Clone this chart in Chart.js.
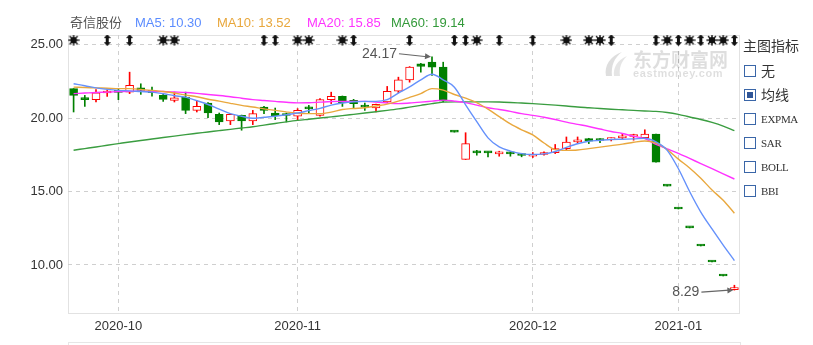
<!DOCTYPE html>
<html>
<head>
<meta charset="utf-8">
<script src="https://cdn.jsdelivr.net/npm/chart.js@4.4.0/dist/chart.umd.min.js"></script>
<style>
  body { margin: 0; background: #fff; }
  #wrap { position: relative; width: 813px; height: 345px; overflow: hidden; font-family: "Liberation Sans", Arial, sans-serif; }
  #chart { position: absolute; left: 0; top: 0; }
  .lg { position: absolute; top: 15px; font-size: 13px; line-height: 16px; white-space: nowrap; }
  .side { position: absolute; left: 743px; font-size: 13px; color: #333; white-space: nowrap; }
  .box { position: absolute; left: 744px; width: 10px; height: 10px; border: 1px solid #3a66a8; background: #fff; }
  .box.on::after { content: ""; position: absolute; left: 2px; top: 2px; width: 6px; height: 6px; background: #2f5597; }
  .opt { position: absolute; left: 761px; font-size: 14px; color: #333; line-height: 16px; }
  .opt.en { font-family: "Liberation Serif", "DejaVu Serif", serif; font-size: 11px; letter-spacing: -0.3px; }
  #lower { position: absolute; left: 68px; top: 342px; width: 671px; height: 10px; border: 1px solid #e6e6e6; }
  .wm { position: absolute; color: rgba(0,0,0,0.13); font-weight: bold; white-space: nowrap; }
</style>
</head>
<body>
<div id="wrap">
  <canvas id="chart" width="741" height="345"></canvas>

  <div class="lg" style="left:70px;color:#555;font-family:'Noto Sans CJK SC',sans-serif;top:14px">奇信股份</div>
  <div class="lg" style="left:135px;color:#5b8cff">MA5: 10.30</div>
  <div class="lg" style="left:217px;color:#e8a73c">MA10: 13.52</div>
  <div class="lg" style="left:307px;color:#ff33ff">MA20: 15.85</div>
  <div class="lg" style="left:391px;color:#339a3a">MA60: 19.14</div>

  <svg class="wm" style="left:602px;top:50px" width="28" height="28" viewBox="0 0 28 28">
    <path d="M4 26 C2 16 8 6 20 2 C12 8 9 16 10 26 Z" fill="rgba(0,0,0,0.13)"/>
    <path d="M12 26 C11 18 15 10 25 6 C19 12 17 18 18 26 Z" fill="rgba(0,0,0,0.10)"/>
  </svg>
  <div class="wm" style="left:633px;top:49px;font-size:19px;font-family:'Noto Sans CJK SC',sans-serif;line-height:20px">东方财富网</div>
  <div class="wm" style="left:633px;top:68px;font-size:11px;letter-spacing:0.6px;line-height:11px">eastmoney.com</div>

  <div class="side" style="top:35px;font-size:14px;font-family:'Noto Sans CJK SC',sans-serif">主图指标</div>
  <div class="box" style="top:65px"></div><div class="opt" style="top:62px;font-family:'Noto Sans CJK SC',sans-serif">无</div>
  <div class="box on" style="top:89px"></div><div class="opt" style="top:86px;font-family:'Noto Sans CJK SC',sans-serif">均线</div>
  <div class="box" style="top:113px"></div><div class="opt en" style="top:111px">EXPMA</div>
  <div class="box" style="top:137px"></div><div class="opt en" style="top:135px">SAR</div>
  <div class="box" style="top:161px"></div><div class="opt en" style="top:159px">BOLL</div>
  <div class="box" style="top:185px"></div><div class="opt en" style="top:183px">BBI</div>

  <div id="lower"></div>
</div>
<script>
// trading days shown
const dates = ['2020-09-25','2020-09-28','2020-09-29','2020-09-30','2020-10-09','2020-10-12','2020-10-13','2020-10-14','2020-10-15','2020-10-16',
  '2020-10-19','2020-10-20','2020-10-21','2020-10-22','2020-10-23','2020-10-26','2020-10-27','2020-10-28','2020-10-29','2020-10-30',
  '2020-11-02','2020-11-03','2020-11-04','2020-11-05','2020-11-06','2020-11-09','2020-11-10','2020-11-11','2020-11-12','2020-11-13',
  '2020-11-16','2020-11-17','2020-11-18','2020-11-19','2020-11-20','2020-11-23','2020-11-24','2020-11-25','2020-11-26','2020-11-27',
  '2020-11-30','2020-12-01','2020-12-02','2020-12-03','2020-12-04','2020-12-07','2020-12-08','2020-12-09','2020-12-10','2020-12-11',
  '2020-12-14','2020-12-15','2020-12-16','2020-12-17','2021-01-04','2021-01-05','2021-01-06','2021-01-07','2021-01-08','2021-01-11'];

const openP = [22.00,21.30,21.25,21.70,21.78,21.76,22.06,21.88,21.54,21.20,
  21.43,20.52,21.02,20.25,19.80,20.18,19.80,20.75,20.34,20.20,
  20.12,20.66,20.18,21.25,21.47,21.20,20.77,20.68,21.09,21.83,
  22.60,23.69,23.80,23.46,19.04,17.18,17.67,17.70,17.56,17.60,
  17.58,17.40,17.52,17.65,17.92,18.38,18.60,18.50,18.53,18.65,
  18.74,18.67,18.90,15.37,13.81,12.52,11.29,10.20,9.25,8.32];
const highP = [22.00,21.54,21.93,21.88,22.00,23.12,22.33,22.10,21.66,21.76,
  21.76,21.20,21.05,20.34,20.27,20.20,20.52,20.79,20.68,20.34,
  20.64,20.86,21.32,21.76,21.50,21.27,21.02,20.95,22.15,22.78,
  23.50,23.72,24.17,23.80,19.04,19.00,17.80,17.70,17.74,17.70,
  17.60,17.65,17.70,18.20,18.71,18.71,18.62,18.60,18.65,18.90,
  18.90,19.20,18.90,15.37,13.81,12.52,11.29,10.20,9.25,8.62];
const lowP = [20.41,20.79,21.09,21.47,21.25,21.66,21.61,21.49,21.13,21.09,
  20.30,20.41,20.03,19.55,19.55,19.17,19.55,20.30,19.89,19.73,
  19.84,20.30,20.12,20.98,20.79,20.68,20.52,20.41,21.05,21.72,
  22.44,23.12,22.90,21.09,19.04,17.18,17.47,17.36,17.40,17.40,
  17.36,17.31,17.47,17.58,17.81,18.26,18.26,18.33,18.44,18.53,
  18.49,18.67,16.99,15.37,13.81,12.52,11.29,10.20,9.25,8.29];
const closeP = [21.54,21.25,21.72,21.76,21.74,22.22,21.88,21.72,21.27,21.38,
  20.52,20.79,20.34,19.73,20.25,19.80,20.30,20.52,20.16,20.17,
  20.52,20.62,21.25,21.47,21.02,20.98,20.74,20.93,21.81,22.60,
  23.46,23.51,23.46,21.15,19.04,18.26,17.63,17.63,17.60,17.56,
  17.45,17.52,17.62,17.92,18.37,18.42,18.42,18.47,18.56,18.67,
  18.76,18.90,16.99,15.37,13.81,12.52,11.29,10.20,9.25,8.40];

const ma5 = [22.33,22.20,22.05,21.95,21.88,21.85,21.80,21.76,21.65,21.52,
  21.42,21.18,20.92,20.60,20.30,20.12,19.98,20.05,20.12,20.22,
  20.34,20.50,20.66,20.88,21.02,21.10,21.13,21.13,21.25,21.70,
  22.12,22.60,22.98,22.60,22.10,20.90,19.75,18.65,18.03,17.75,
  17.58,17.52,17.56,17.72,18.00,18.25,18.42,18.48,18.54,18.56,
  18.58,18.62,18.37,17.80,16.55,15.00,13.60,12.45,11.35,10.30];
const ma10 = [22.10,22.08,22.05,22.03,22.00,22.00,21.95,21.88,21.80,21.70,
  21.56,21.45,21.28,21.15,21.00,20.86,20.75,20.62,20.52,20.42,
  20.32,20.30,20.30,20.40,20.58,20.65,20.70,20.82,20.95,21.15,
  21.40,21.66,22.00,21.90,21.60,21.35,21.05,20.60,20.10,19.60,
  19.20,18.85,18.30,17.85,17.80,17.82,17.92,18.02,18.12,18.22,
  18.35,18.44,18.30,17.85,17.20,16.60,15.90,15.10,14.40,13.52];
const ma20 = [21.66,21.70,21.74,21.76,21.80,21.82,21.83,21.82,21.80,21.77,
  21.74,21.68,21.60,21.53,21.45,21.35,21.25,21.19,21.13,21.07,
  21.03,21.04,21.08,21.12,21.13,21.13,21.13,21.08,21.02,20.98,
  21.02,21.08,21.15,21.22,21.15,21.05,20.88,20.70,20.58,20.45,
  20.30,20.18,20.05,19.90,19.72,19.57,19.42,19.25,19.08,18.95,
  18.75,18.60,18.20,17.90,17.60,17.25,16.90,16.55,16.20,15.85];
const ma60 = [17.81,17.92,18.03,18.15,18.26,18.37,18.47,18.57,18.67,18.77,
  18.87,18.96,19.05,19.14,19.23,19.32,19.41,19.52,19.63,19.74,
  19.84,19.92,20.00,20.08,20.16,20.25,20.34,20.43,20.52,20.62,
  20.74,20.86,20.98,21.08,21.10,21.10,21.10,21.10,21.09,21.06,
  21.02,20.98,20.93,20.88,20.82,20.75,20.70,20.65,20.60,20.56,
  20.52,20.48,20.45,20.38,20.25,20.07,19.90,19.70,19.45,19.14];

const yTicks = [10, 15, 20, 25];
// days carrying info markers in the top row
const arrowDays = [3,5,17,18,25,30,34,35,38,41,48,52,54,56,59];
const starDays = [0,8,9,20,21,24,36,44,46,47,53,55,57,58];
const markerLevel = 25.3;

const UP = '#ff0000', DOWN = '#008000';
// flat candles take the colour of the move from the previous close
const isUp = i => closeP[i] > openP[i] || (closeP[i] === openP[i] && (i === 0 || closeP[i] >= closeP[i - 1]));

function arrowIcon() {
  const c = document.createElement('canvas'); c.width = 7; c.height = 12;
  const g = c.getContext('2d'); g.fillStyle = '#111';
  g.beginPath(); g.moveTo(0,4); g.lineTo(3.5,0); g.lineTo(7,4); g.fill();
  g.fillRect(2,4,3,4);
  g.beginPath(); g.moveTo(0,8); g.lineTo(3.5,12); g.lineTo(7,8); g.fill();
  return c;
}
function starIcon() {
  const c = document.createElement('canvas'); c.width = 12; c.height = 12;
  const g = c.getContext('2d'); g.fillStyle = '#111'; g.strokeStyle = '#111'; g.lineWidth = 1.4;
  g.beginPath(); g.arc(6,6,3.2,0,Math.PI*2); g.fill();
  for (let k = 0; k < 8; k++) {
    const a = k * Math.PI / 4;
    g.beginPath(); g.moveTo(6,6); g.lineTo(6 + 5.6*Math.cos(a), 6 + 5.6*Math.sin(a)); g.stroke();
  }
  return c;
}

const monthStarts = dates.map((d, i) => i > 0 && d.slice(0,7) !== dates[i-1].slice(0,7) ? i : -1).filter(i => i >= 0);

const notes = [
  { index: highP.indexOf(Math.max(...highP)), value: Math.max(...highP), dy: -3 },
  { index: lowP.indexOf(Math.min(...lowP)), value: Math.min(...lowP), dy: 2 }
];

const frame = {
  id: 'frame',
  beforeDraw(chart) {
    const a = chart.chartArea, ctx = chart.ctx;
    ctx.save(); ctx.strokeStyle = '#e2e2e2'; ctx.lineWidth = 1;
    ctx.strokeRect(a.left + 0.5, a.top + 0.5, a.right - a.left - 1, a.bottom - a.top);
    ctx.restore();
  },
  afterDraw(chart) {
    const ctx = chart.ctx, x = chart.scales.x, y = chart.scales.y;
    ctx.save();
    ctx.font = '14px "Liberation Sans", Arial, sans-serif';
    ctx.fillStyle = '#555'; ctx.strokeStyle = '#666'; ctx.lineWidth = 1.2;
    ctx.textAlign = 'right'; ctx.textBaseline = 'middle';
    notes.forEach(n => {
      const px = x.getPixelForValue(n.index) - 1, py = y.getPixelForValue(n.value);
      const tx = px - 33, ty = py + n.dy;
      ctx.fillText(n.value.toFixed(2), tx - 1, ty);
      ctx.beginPath(); ctx.moveTo(tx + 1, ty); ctx.lineTo(px - 4, py); ctx.stroke();
      const ang = Math.atan2(py - ty, px - tx);
      ctx.beginPath();
      ctx.moveTo(px, py);
      ctx.lineTo(px - 6*Math.cos(ang) + 3*Math.sin(ang), py - 6*Math.sin(ang) - 3*Math.cos(ang));
      ctx.lineTo(px - 6*Math.cos(ang) - 3*Math.sin(ang), py - 6*Math.sin(ang) + 3*Math.cos(ang));
      ctx.closePath(); ctx.fillStyle = '#666'; ctx.fill(); ctx.fillStyle = '#555';
    });
    ctx.restore();
  }
};

function maLine(data, color) {
  return { type: 'line', data: data, borderColor: color, borderWidth: 1.4, pointRadius: 0,
    tension: 0.4, cubicInterpolationMode: 'monotone', order: 0 };
}

new Chart(document.getElementById('chart'), {
  type: 'bar',
  data: {
    labels: dates,
    datasets: [
      { type: 'line', data: dates.map((d, i) => arrowDays.includes(i) ? markerLevel : null),
        showLine: false, pointStyle: arrowIcon(), pointRadius: 5, order: 0 },
      { type: 'line', data: dates.map((d, i) => starDays.includes(i) ? markerLevel : null),
        showLine: false, pointStyle: starIcon(), pointRadius: 5, order: 0 },
      maLine(ma5, '#6591fb'),
      maLine(ma10, '#e9a83e'),
      maLine(ma20, '#ff33ff'),
      maLine(ma60, '#3a9d40'),
      { data: dates.map((d, i) => [openP[i], closeP[i]]), grouped: false, barThickness: 8, minBarLength: 2,
        backgroundColor: c => isUp(c.dataIndex) ? '#ffffff' : DOWN,
        borderColor: c => isUp(c.dataIndex) ? UP : DOWN,
        borderWidth: 1, borderSkipped: false, order: 1 },
      { data: dates.map((d, i) => [lowP[i], highP[i]]), grouped: false, barThickness: 1, minBarLength: 1,
        backgroundColor: c => isUp(c.dataIndex) ? UP : DOWN, borderWidth: 0, order: 2 }
    ]
  },
  options: {
    responsive: false,
    animation: false,
    devicePixelRatio: 1,
    layout: { autoPadding: false, padding: { top: 35, right: 1, left: 0, bottom: 0 } },
    plugins: { legend: { display: false }, tooltip: { enabled: false } },
    scales: {
      x: {
        offset: true,
        afterFit: s => { s.height = 32; },
        grid: { offset: false, drawTicks: false, color: c => monthStarts.includes(c.index) ? '#cfcfcf' : 'rgba(0,0,0,0)' },
        border: { display: false, dash: [4, 4] },
        ticks: { autoSkip: false, maxRotation: 0, padding: 6, color: '#333',
          font: { size: 13, family: '"Liberation Sans", Arial, sans-serif' },
          callback: (v, i) => monthStarts.includes(i) ? dates[i].slice(0, 7) : '' }
      },
      y: {
        min: 6.73, max: 25.65,
        afterFit: s => { s.width = 68; },
        afterBuildTicks: s => { s.ticks = yTicks.map(v => ({ value: v })); },
        grid: { drawTicks: false, color: '#cfcfcf' },
        border: { display: false, dash: [4, 4] },
        ticks: { padding: 5, color: '#333', font: { size: 13, family: '"Liberation Sans", Arial, sans-serif' },
          callback: v => Number(v).toFixed(2) }
      }
    }
  },
  plugins: [frame]
});
</script>
</body>
</html>
